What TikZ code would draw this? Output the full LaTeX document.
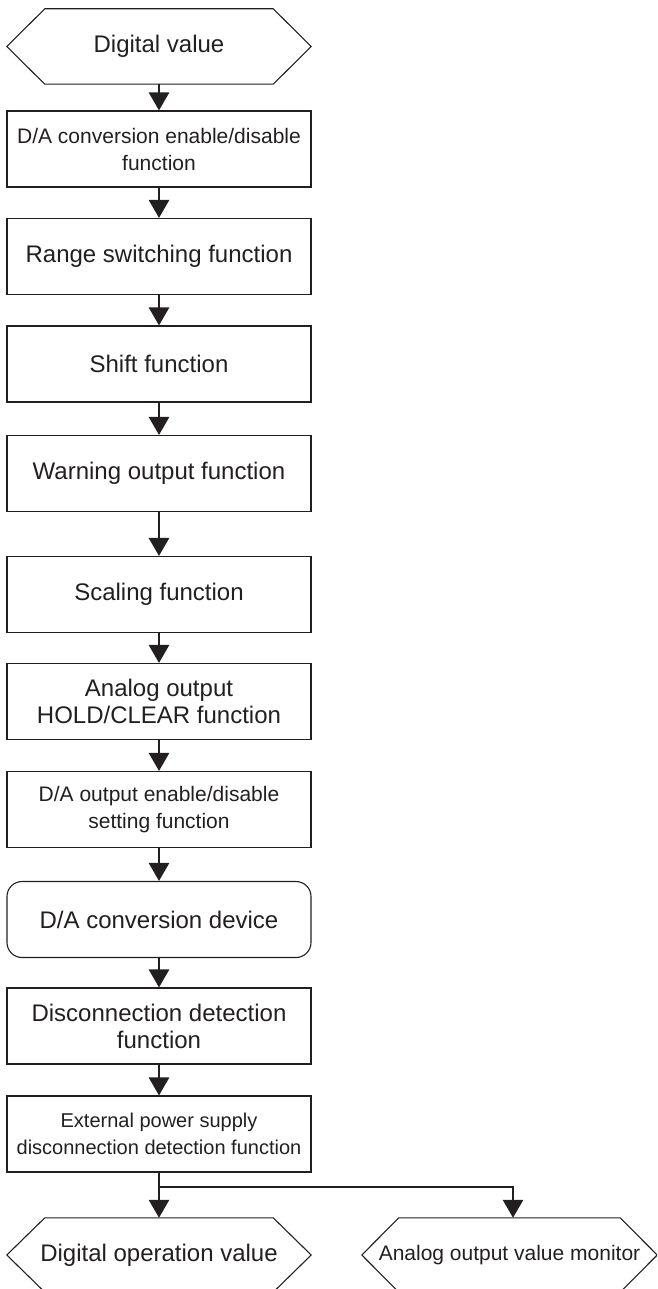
\documentclass[tikz,border=0pt]{standalone}
\usepackage{fontspec}
\setmainfont{Liberation Sans}
\usetikzlibrary{arrows.meta,calc}
\definecolor{ink}{HTML}{231F20}
\begin{document}
\begin{tikzpicture}[x=1pt,y=-1pt,
  fbox/.style={draw=ink, line width=1.1pt, minimum width=304pt, minimum height=76pt, inner sep=0pt, align=center, text=ink, font=\fontsize{24}{27}\selectfont},
  rbox/.style={fbox, rounded corners=15pt},
  smalltext/.style={font=\fontsize{21}{27}\selectfont},
  tinytext/.style={font=\fontsize{20}{27}\selectfont},
  hexlab/.style={minimum width=304pt, minimum height=75pt, inner sep=0pt, align=center, text=ink, font=\fontsize{24}{27}\selectfont},
  hexline/.style={draw=ink, line width=1.1pt},
  flow/.style={draw=ink, line width=2.8pt, -{Triangle[width=20pt,length=18pt]}},
  flowline/.style={draw=ink, line width=2.8pt}]
\useasboundingbox (0,0) rectangle (657,1289);
\clip (0,0) rectangle (657,1289);
% top hexagon
\node[hexlab] (dv) at (159,46.5) {Digital value};
\draw[hexline] (dv.west) -- ($(dv.north west)+(38,0)$) -- ($(dv.north east)+(-38,0)$) -- (dv.east) -- ($(dv.south east)+(-38,0)$) -- ($(dv.south west)+(38,0)$) -- cycle;
% boxes
\node[fbox, smalltext] (b1) at (159,149) {D/A conversion enable/disable\\function};
\node[fbox] (b2) at (159,256.5) {Range switching function};
\node[fbox] (b3) at (159,364) {Shift function};
\node[fbox] (b4) at (159,473.5) {Warning output function};
\node[fbox] (b5) at (159,594.5) {Scaling function};
\node[fbox] (b6) at (159,701.5) {Analog output\\HOLD/CLEAR function};
\node[fbox, smalltext] (b7) at (159,809.5) {D/A output enable/disable\\setting function};
\node[rbox] (b8) at (159,919.5) {D/A conversion device};
\node[fbox] (b9) at (159,1026) {Disconnection detection\\function};
\node[fbox, tinytext] (b10) at (159,1134) {External power supply\\disconnection detection function};
% bottom hexagons
\node[hexlab, minimum height=74pt] (dov) at (159,1255) {Digital operation value};
\draw[hexline] (dov.west) -- ($(dov.north west)+(38,0)$) -- ($(dov.north east)+(-38,0)$) -- (dov.east) -- ($(dov.south east)+(-38,0)$) -- ($(dov.south west)+(38,0)$) -- cycle;
\node[hexlab, minimum width=295pt, minimum height=74pt, smalltext] (aov) at (509.5,1255) {Analog output value monitor};
\draw[hexline] (aov.west) -- ($(aov.north west)+(37,0)$) -- ($(aov.north east)+(-37,0)$) -- (aov.east) -- ($(aov.south east)+(-37,0)$) -- ($(aov.south west)+(37,0)$) -- cycle;
% connectors
\draw[flow] (dv.south) -- (b1.north);
\draw[flow] (b1.south) -- (b2.north);
\draw[flow] (b2.south) -- (b3.north);
\draw[flow] (b3.south) -- (b4.north);
\draw[flow] (b4.south) -- (b5.north);
\draw[flow] (b5.south) -- (b6.north);
\draw[flow] (b6.south) -- (b7.north);
\draw[flow] (b7.south) -- (b8.north);
\draw[flow] (b8.south) -- (b9.north);
\draw[flow] (b9.south) -- (b10.north);
\draw[flow] (b10.south) -- (dov.north);
\coordinate (br) at (513,1187);
\draw[flow] (b10.south |- br) -- (br) -- (br |- aov.north);
\end{tikzpicture}
\end{document}
